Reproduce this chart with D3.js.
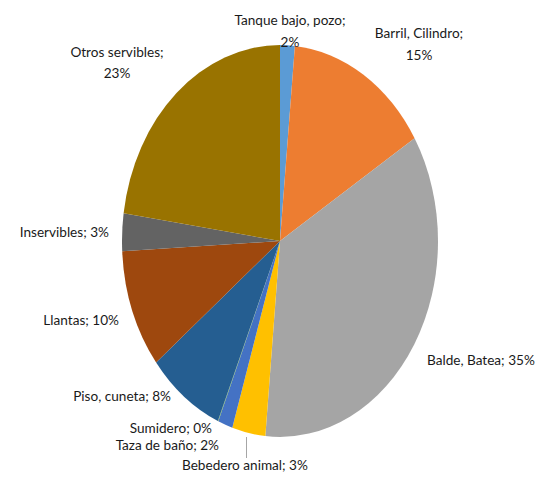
<!DOCTYPE html>
<html><head><meta charset="utf-8">
<script src="https://cdn.jsdelivr.net/npm/d3@7"></script>
<style>html,body{margin:0;padding:0;background:#fff}</style>
</head><body>
<script>
const categories = ["Tanque bajo, pozo","Barril, Cilindro","Balde, Batea","Bebedero animal","Taza de baño","Sumidero","Piso, cuneta","Llantas","Inservibles","Otros servibles"];
const values = [1.5, 14.7, 35.2, 3.4, 1.5, 0.05, 7.9, 9.8, 3.1, 22.7];
const percentLabels = ["2%","15%","35%","3%","2%","0%","8%","10%","3%","23%"];
const colors = ["#5B9BD5","#ED7D31","#A5A5A5","#FFC000","#4472C4","#70AD47","#255E91","#9E480E","#636363","#997300"];

// layout (original pixel coords of label centre / anchor)
const layout = [
  {x:290, y:20, anchor:"middle", twoLine:true, y2:42},
  {x:419, y:33, anchor:"middle", twoLine:true, y2:55},
  {x:427, y:360, anchor:"start"},
  {x:182, y:465, anchor:"start"},
  {x:219, y:445, anchor:"end"},
  {x:212, y:428, anchor:"end"},
  {x:171, y:396.5, anchor:"end"},
  {x:119, y:320.5, anchor:"end"},
  {x:109, y:232.5, anchor:"end"},
  {x:117, y:52, anchor:"middle", twoLine:true, y2:73}
];

const W = 557, H = 477, k = 1.24;
const cx = 280, cy = 241, r = 158;

const svg = d3.select("body").append("svg").attr("width", W).attr("height", H);
const g = svg.append("g").attr("transform", `scale(1,${k})`);

const pie = d3.pie().sort(null).value(d => d)(values);
const arc = d3.arc().innerRadius(0).outerRadius(r);

g.append("g").attr("transform", `translate(${cx},${cy/k})`)
  .selectAll("path").data(pie).join("path")
  .attr("d", arc).attr("fill", (d,i) => colors[i]);

// leader line for Bebedero animal
svg.append("line").attr("x1", 246.5).attr("x2", 246.5)
  .attr("y1", 437).attr("y2", 458)
  .attr("stroke", "#a6a6a6").attr("stroke-width", 1);

const lab = svg.append("g").attr("font-family", "Lato, 'Open Sans', sans-serif")
  .attr("font-size", 13.6).attr("fill", "#1a1a1a");

categories.forEach((c, i) => {
  const L = layout[i];
  if (L.twoLine) {
    lab.append("text").attr("x", L.x).attr("y", L.y).attr("dy", "0.35em")
      .attr("text-anchor", L.anchor).text(c + ";");
    lab.append("text").attr("x", L.x).attr("y", L.y2).attr("dy", "0.35em")
      .attr("text-anchor", L.anchor).text(percentLabels[i]);
  } else {
    lab.append("text").attr("x", L.x).attr("y", L.y).attr("dy", "0.35em")
      .attr("text-anchor", L.anchor).text(c + "; " + percentLabels[i]);
  }
});
</script>
</body></html>
